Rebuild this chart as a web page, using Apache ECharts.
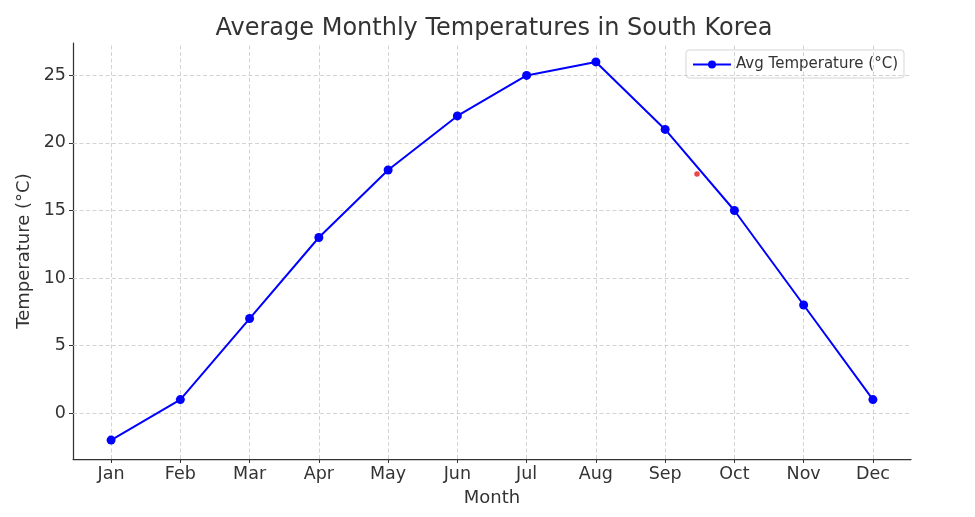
<!DOCTYPE html>
<html><head><meta charset="utf-8">
<script src="https://cdn.jsdelivr.net/npm/echarts@6/dist/echarts.min.js"></script>
<style>html,body{margin:0;padding:0;background:#fff}#c{width:975px;height:517px}</style>
</head><body><div id="c"></div>
<script>
const months = ['Jan','Feb','Mar','Apr','May','Jun','Jul','Aug','Sep','Oct','Nov','Dec'];
const temps = [-2, 1, 7, 13, 18, 22, 25, 26, 21, 15, 8, 1];
const yTicks = [0, 5, 10, 15, 20, 25];
const strayPoint = [[8.46, 17.7]];

const font = 'DejaVu Sans';
const chart = echarts.init(document.getElementById('c'), null, {renderer: 'canvas'});
const xIdx = months.map((m, i) => i);
chart.setOption({
  animation: false,
  title: {text: 'Average Monthly Temperatures in South Korea', left: 489, top: 12, textAlign: 'center',
    textStyle: {fontFamily: font, fontSize: 24, fontWeight: 'normal', color: '#333'}},
  legend: {right: 71, top: 50, itemWidth: 38, itemHeight: 10, itemGap: 10,
    padding: [7, 6, 6, 6], borderColor: '#d5d5d5', borderWidth: 1, borderRadius: 3, backgroundColor: '#fff',
    textStyle: {fontFamily: font, fontSize: 15, color: '#333'},
    data: ['Avg Temperature (°C)']},
  grid: {left: 73, right: 64, top: 43, bottom: 58},
  xAxis: {type: 'value', min: -0.55, max: 11.55,
    name: 'Month', nameLocation: 'middle', nameGap: 30,
    nameTextStyle: {fontFamily: font, fontSize: 18, color: '#333'},
    axisLine: {show: true, onZero: false, lineStyle: {color: '#333', width: 1.25}},
    axisTick: {show: true, customValues: xIdx, inside: false, length: 4, lineStyle: {color: '#333'}},
    axisLabel: {customValues: xIdx, formatter: v => months[Math.round(v)], fontFamily: font, fontSize: 17.5, color: '#333', margin: 6},
    splitLine: {show: false}},
  yAxis: {type: 'value', min: -3.4, max: 27.4,
    name: 'Temperature (°C)', nameLocation: 'middle', nameGap: 33, nameRotate: 90,
    nameTextStyle: {fontFamily: font, fontSize: 18, color: '#333'},
    axisLine: {show: true, onZero: false, lineStyle: {color: '#333', width: 1.25}},
    axisTick: {show: true, customValues: yTicks, length: 4, lineStyle: {color: '#333'}},
    axisLabel: {customValues: yTicks, fontFamily: font, fontSize: 17.5, color: '#333', margin: 7},
    splitLine: {show: false}},
  series: [
    {name: 'grid', type: 'line', data: [], silent: true,
     markLine: {silent: true, symbol: 'none', label: {show: false},
       lineStyle: {color: '#c8c8c8', type: [4, 2.5], width: 0.8},
       data: xIdx.map(i => ({xAxis: i})).concat(yTicks.map(v => ({yAxis: v})))}},
    {name: 'Avg Temperature (°C)', type: 'line', data: temps.map((t, i) => [i, t]),
     color: '#0000ff', symbol: 'circle', symbolSize: 9,
     lineStyle: {color: '#0000ff', width: 2}, itemStyle: {color: '#0000ff'}, z: 5},
    {name: 'stray', type: 'scatter', data: strayPoint, symbolSize: 5.5,
     itemStyle: {color: '#e41a1c'}, z: 4}
  ]
});
</script></body></html>
